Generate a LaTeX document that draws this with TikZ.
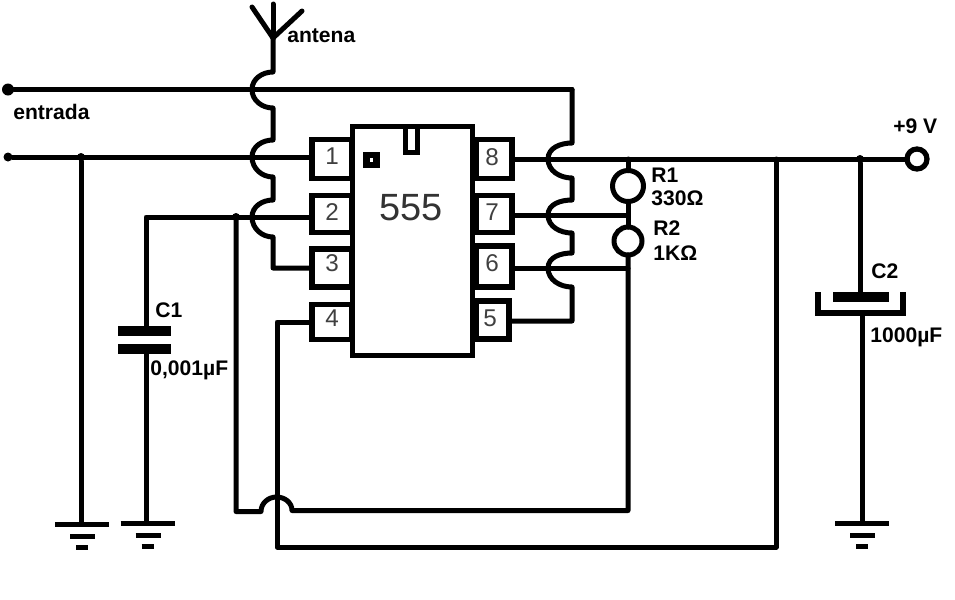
\documentclass[tikz,border=0pt]{standalone}
\usepackage{fontspec}
\setmainfont{Liberation Sans}
\usetikzlibrary{calc}
\tikzset{
	wire/.style={line width=1mm, line cap=round, line join=round},
	plate/.style={line width=1.9mm},
	bar/.style={line width=1mm},
	hopin/.style={out=180, in=90},
	hopout/.style={out=-90, in=180},
	pinbox/.style={draw, line width=1.05mm, fill=white, inner sep=0pt, outer sep=0pt, minimum width=0.8cm, font=\fontsize{13.8}{15}\selectfont, text=black!75},
	lab/.style={anchor=base west, inner sep=0pt, font=\bfseries\fontsize{12}{14}\selectfont},
	res/.style={draw, circle, line width=1mm, fill=white, inner sep=0pt, outer sep=0pt},
	dot/.style={circle, fill=black, inner sep=0pt, outer sep=0pt}
}
\def\earth(#1){
	\draw[bar] ($(#1)+(-27,0)$) -- ($(#1)+(27,0)$);
	\draw[bar] ($(#1)+(-12,12)$) -- ($(#1)+(13,12)$);
	\draw[bar] ($(#1)+(-6,23)$) -- ($(#1)+(6,23)$);
}

\begin{document}
\begin{tikzpicture}[x=0.02cm, y=-0.02cm]
		%%%%% START %%%%%
		\useasboundingbox (0, 0) rectangle (955, 599);
		\fill[white] (0, 0) rectangle (955, 599);
		
		% pins, the chip goes over them
		\node[pinbox, minimum height=0.78cm, text depth=0.1cm] (p1) at (332, 159) {1};
		\node[pinbox, minimum height=0.73cm, text depth=0.08cm] (p2) at (332, 214) {2};
		\node[pinbox, minimum height=0.76cm, text depth=0.2cm] (p3) at (332, 268) {3};
		\node[pinbox, minimum height=0.71cm, text depth=0.16cm] (p4) at (332, 322) {4};
		\node[pinbox, minimum height=0.78cm, text depth=0.08cm] (p8) at (492, 159) {8};
		\node[pinbox, minimum height=0.74cm, text depth=0.06cm] (p7) at (492, 214) {7};
		\node[pinbox, minimum height=0.82cm, text depth=0.12cm] (p6) at (492, 266.5) {6};
		\node[pinbox, minimum height=0.76cm, minimum width=0.76cm, text depth=0.06cm] (p5) at (490, 320) {5};
		
		\node[draw, fill=white, line width=1.05mm, inner sep=0pt, outer sep=0pt, minimum width=2.4cm, minimum height=4.58cm] (chip) at (412.5, 241) {};
		\node[inner sep=0pt, font=\fontsize{21.6}{24}\selectfont, text=black!80] (type) at (411, 208) {555};
		\draw[line width=1mm] (405.5, 126) -- (405.5, 152.5) -- (417.5, 152.5) -- (417.5, 126);
		\draw[line width=1.3mm] (366.5, 155) rectangle (376.5, 165);
		
		% the chip edge is heavier along the right pins
		\draw[line width=1.5mm] (475, 140) -- (475, 178);
		\draw[line width=1.5mm] (475, 196) -- (475, 232);
		\draw[line width=1.5mm] (475, 246) -- (475, 287);
		\draw[line width=1.5mm] (475, 302) -- (475, 339);
		
		% antenna
		\coordinate (ant) at (273, 38);
		\draw[wire] (ant) -- (273, 4);
		\draw[wire] (ant) -- (252, 7);
		\draw[wire] (ant) -- (302, 11);
		\node[lab] (antlab) at (287, 42) {antena};
		
		% left input lines
		\node[dot, minimum size=0.24cm] (in1) at (8, 89.5) {};
		\node[dot, minimum size=0.18cm] (in2) at (8, 157) {};
		\coordinate (top) at (572, 89.5);
		\draw[wire] (in1) -- (top);
		\draw[wire] (in2) -- (in2 -| p1.west);
		\node[lab] (inlab) at (13, 119) {entrada};
		
		% line going over the others, antenna down to pin 3
		\draw[wire] (ant) -- (273, 72) to[hopin] (252, 89.5) to[hopout] (273, 108)
			-- (273, 140) to[hopin] (252, 157) to[hopout] (273, 177)
			-- (273, 200) to[hopin] (252, 217) to[hopout] (273, 237)
			-- (273, 268) -- (p3.west |- 273, 268);
		
		% right side, top line down to pin 5
		\draw[wire] (top) -- (572, 143) to[hopin] (548, 159) to[hopout] (572, 178)
			-- (572, 200) to[hopin] (548, 215) to[hopout] (572, 233)
			-- (572, 253) to[hopin] (548, 268) to[hopout] (572, 287)
			-- (572, 321) -- (p5.east |- 572, 321);
		
		% timing resistors
		\node[res, minimum size=0.62cm] (r1) at (628, 186) {};
		\node[res, minimum size=0.56cm] (r2) at (628, 241) {};
		\node[draw, circle, line width=1.05mm, fill=white, inner sep=0pt, outer sep=0pt, minimum size=0.4cm] (vcc) at (917, 159) {};
		\draw[wire] (p8.east) -- (vcc.west);
		\draw[wire] (r1.north) -- (r1.north |- p8.east);
		\draw[wire] (r1.south) -- (r2.north);
		\coordinate (n7) at (628, 215);
		\coordinate (n6) at (628, 268);
		\draw[wire] (n7 -| p7.east) -- (n7);
		\draw[wire] (n6 -| p6.east) -- (n6);
		\node[lab] (r1lab) at (651, 182) {R1};
		\node[lab] (r1val) at (651, 205) {330Ω};
		\node[lab] (r2lab) at (653, 235) {R2};
		\node[lab] (r2val) at (653, 260) {1KΩ};
		\node[lab] (vcclab) at (893, 133) {+9 V};
		
		% pin 6 line back to pin 2, hopping the pin 4 line
		\coordinate (hopr) at (292, 510.5);
		\coordinate (hopl) at (261, 511.5);
		\coordinate (jt) at (236, 217);
		\draw[wire] (r2.south) -- (r2.south |- hopr) -- (hopr) to[out=90, in=0] (276.5, 497) to[out=180, in=90] (hopl) -- (hopl -| jt) -- (jt);
		
		% pin 4 line and supply
		\coordinate (vr) at (776, 159);
		\draw[wire] (p4.west) -- (277, 322) -- (277, 547) -- (vr |- 277, 547) -- (vr);
		
		% C1
		\node[dot, minimum size=0.16cm] (j1) at (81, 157) {};
		\node[dot, minimum size=0.16cm] (j2) at (236, 217) {};
		\coordinate (c1top) at (146, 331);
		\coordinate (c1bot) at (146, 349);
		\coordinate (c1gnd) at (146, 523);
		\draw[wire] (j2 -| p2.west) -- (j2 -| c1top) -- (c1top);
		\draw[wire] (c1bot) -- (c1gnd);
		\draw[plate] (118, 331) -- (171, 331);
		\draw[plate] (118, 349) -- (171, 349);
		\node[lab] (c1lab) at (155, 317) {C1};
		\node[lab] (c1val) at (150, 375) {0,001µF};
		\earth(147.5, 523)
		
		% ground of the input
		\draw[wire] (j1) -- (81, 524);
		\earth(82, 524)
		
		% C2
		\node[dot, minimum size=0.16cm] (j3) at (860, 159) {};
		\coordinate (c2top) at (860, 297);
		\coordinate (c2bot) at (862, 313);
		\draw[wire] (j3) -- (c2top);
		\draw[wire] (c2bot) -- (862, 523);
		\draw[plate] (833, 297) -- (889, 297);
		\draw[line width=1.3mm] (818, 292) -- (818, 313) -- (903, 313) -- (903, 292);
		\node[lab] (c2lab) at (871, 278) {C2};
		\node[lab] (c2val) at (870, 342) {1000µF};
		\earth(862, 523)
		
		%%%%% END %%%%%
	\end{tikzpicture}
\end{document}
